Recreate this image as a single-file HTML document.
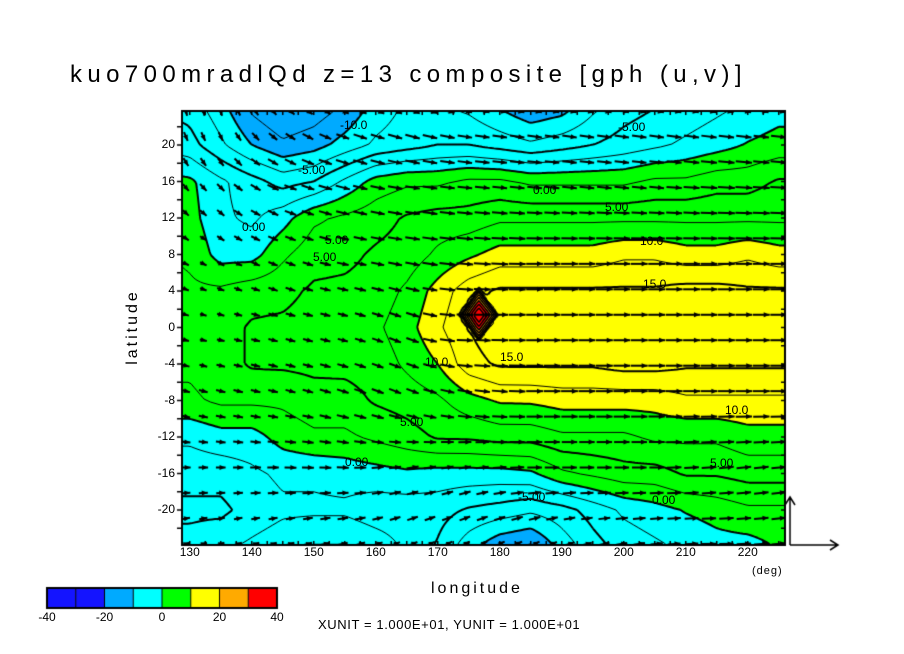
<!DOCTYPE html>
<html><head><meta charset="utf-8"><style>
body{margin:0;background:#fff;width:904px;height:654px;overflow:hidden;position:relative;font-family:"Liberation Sans",sans-serif}
.t{position:absolute;white-space:nowrap;color:#000}
</style></head><body>
<div class="t" style="left:70px;top:61px;font-size:24px;letter-spacing:5.4px">kuo700mradlQd z=13 composite [gph (u,v)]</div>
<canvas id="cv" width="904" height="654" style="position:absolute;left:0;top:0"></canvas>
<div class="t" style="left:431px;top:580px;font-size:16px;letter-spacing:3px">longitude</div>
<div class="t" style="left:752px;top:565px;font-size:11px;letter-spacing:1px">(deg)</div>
<div class="t" style="left:95px;top:318px;font-size:16px;letter-spacing:3px;transform:rotate(-90deg);transform-origin:center">latitude</div>
<div class="t" style="left:318px;top:617px;font-size:13px;letter-spacing:0.6px">XUNIT = 1.000E+01, YUNIT = 1.000E+01</div>
<script>
const lons=[125,130,135,140,145,150,155,160,165,170,175,180,185,190,195,200,205,210,215,220,225,230];
const lats=[24,20,16,12,8,4,0,-4,-8,-12,-16,-20,-24];
const gph=[
[-5,-6,-9,-13,-15,-14,-12,-9,-7,-7,-8,-10,-12,-11,-8,-6,-5,-4,-3,-2,-1,-1],
[-3,-4,-7,-10,-12,-11,-9,-7,-6,-5,-5,-6,-7,-6,-5,-4,-3,-2,-1,0.2,1,1],
[1,0.5,-2,-4,-6,-5,-2,1,2,2,3,3,2,2,2,2,3,3,4,4,5.3,5.3],
[2,1,-2,-3,-1,2,3,4,5.3,6,6,7,7,7,7,7,7,7,7,7,7,7],
[3,2,-1,-1,2,4,4.3,5.4,6,8,9.5,11,11,11,11,12,12,11,11,12,11,11],
[3,3,3,4,4.3,5.4,5.6,6,8,11,14,15.4,15.4,15.4,15.4,15.4,15.4,16,16,15.4,15.4,15.4],
[3,3,4,5.3,5.5,6,6.2,7,9,12,15,17,16,16,16,17,17,16,16,16,16,16],
[3,3,4,5.3,5.4,5.6,5.7,6,8,10,14,15.4,15.4,15.4,15.4,16,16,15.4,15.4,15.4,15.4,15.4],
[2,2,3,3,3,4,4,5.3,6,7,9,10.3,10.4,11,11,11,11,12,12,12,12,12],
[-2,-2,-1,-1,1,2,2,3,4,5.3,5.4,6,6,7,7,7,8,8,8,9,9,9],
[-4,-4,-4,-3,-2,-2,-1.5,-1,-0.5,-1,-1,-1,-0.5,2,3,4,4,5.3,5.3,6,6,6],
[-5.6,-5.6,-5.6,-4,-3,-3,-3,-4,-4,-4,-5.3,-6,-7,-6,-4,-2,-1,0.2,1,2,2,2],
[-4,-4,-3,-2,-1,0.2,0.2,-1,-3,-5.3,-9,-12,-13,-9,-6,-4,-3,-2,-1,-1,0.2,0.2]];
const peakLon=[176.6];
const peakLat=[1.4];
const peakAmp=[24];
const wLons=[125,135,145,155,165,175,185,195,205,215,225,235];
const wLats=[24,16,8,0,-8,-16,-24];
const uWind=[
[0.5,0.5,1.5,2.5,3,3,3,3,3,3,3,3],
[1,1.5,2.5,3,3,3,3,3,3,3.5,3.5,3.5],
[1,1.5,2,2.5,3,3.5,3.5,3.5,3.5,3.5,3.5,3.5],
[1,1.5,2,2,2.5,3.5,3.5,3.5,3.5,3.5,3.5,3.5],
[1.5,2,2,2.5,2.5,3,3.5,3.5,3.5,3.5,3.5,3.5],
[2,2,2.5,2.5,2.5,2.5,3,3,3,3,3,3],
[1.5,1.5,1.5,2,2,2,2,2,2.5,3,3,3]];
const vWind=[
[-2,-2,-1.5,-1,-1,-0.5,-0.5,-0.5,-0.5,-0.5,-0.5,-0.5],
[-1.5,-1.5,-1,-0.8,-0.5,-0.3,-0.3,-0.3,-0.3,-0.2,-0.2,-0.2],
[-0.5,-0.8,-0.8,-0.5,-0.5,-0.3,0,0,0,0,0,0],
[-0.3,-0.3,-0.5,-0.5,-1,0,0,0,0,0,0,0],
[-0.5,-0.5,-0.5,-0.8,-1,-0.5,0,0,0,0,0,0],
[0,0,0,0,0.5,0.5,0,0,0,0.3,0.3,0.3],
[0.5,0.5,0.5,0.5,0.8,1,1,0.5,0.3,0,0.3,0.3]];
const xTicks=[130,140,150,160,170,180,190,200,210,220];
const yTicks=[20,16,12,8,4,0,-4,-8,-12,-16,-20];
const cbLabels=[-40,-20,0,20,40];
const cbColors=["#1414ff","#1414ff","#00aaff","#00ffff","#00ff00","#ffff00","#ffaa00","#ff0000"];

const L=182,R=785,T=111,B=545;
const X=lon=>L+(lon-128.75)*6.2;
const Y=lat=>327.5-lat*9.125;
const lonOf=x=>128.75+(x-L)/6.2;
const latOf=y=>(327.5-y)/9.125;
function interp(grid,gl,gt,lon,lat){
  let fi=(lon-gl[0])/(gl[1]-gl[0]); let fj=(gt[0]-lat)/(gt[0]-gt[1]);
  fi=Math.max(0,Math.min(gl.length-1.0001,fi)); fj=Math.max(0,Math.min(gt.length-1.0001,fj));
  const i=Math.floor(fi),j=Math.floor(fj),a=fi-i,b=fj-j;
  return grid[j][i]*(1-a)*(1-b)+grid[j][i+1]*a*(1-b)+grid[j+1][i]*(1-a)*b+grid[j+1][i+1]*a*b;
}
function field(lon,lat){
  let v=interp(gph,lons,lats,lon,lat);
  for(let k=0;k<peakAmp.length;k++){const d=Math.abs(lon-peakLon[k])/3.2+Math.abs(lat-peakLat[k])/3.0;if(d<1)v+=peakAmp[k]*Math.pow(1-d,0.6);}
  return v;
}
const cv=document.getElementById('cv');const c=cv.getContext('2d');
const rgb=cbColors.map(h=>[parseInt(h.substr(1,2),16),parseInt(h.substr(3,2),16),parseInt(h.substr(5,2),16)]);
const img=c.createImageData(R-L,B-T);
for(let y=T;y<B;y++)for(let x=L;x<R;x++){
  const v=field(lonOf(x+0.5),latOf(y+0.5));
  let k=Math.floor((v+40)/10);k=Math.max(0,Math.min(7,k));
  const p=((y-T)*(R-L)+(x-L))*4;img.data[p]=rgb[k][0];img.data[p+1]=rgb[k][1];img.data[p+2]=rgb[k][2];img.data[p+3]=255;}
c.putImageData(img,L,T);
const S=3;const nx=Math.ceil((R-L)/S),ny=Math.ceil((B-T)/S);
const F=[];for(let j=0;j<=ny;j++){F[j]=[];for(let i=0;i<=nx;i++){F[j][i]=field(lonOf(Math.min(R,L+i*S)),latOf(Math.min(B,T+j*S)));}}
c.save();c.beginPath();c.rect(L,T,R-L,B-T);c.clip();c.strokeStyle='#000';
for(let lv=-15;lv<=35;lv+=2.5){
  c.lineWidth=(lv%5===0)?2:1;if(lv>20)c.lineWidth=1.5;c.beginPath();
  for(let j=0;j<ny;j++)for(let i=0;i<nx;i++){
    const x0=L+i*S,y0=T+j*S;const v=[F[j][i],F[j][i+1],F[j+1][i+1],F[j+1][i]];
    const P=[[x0,y0],[x0+S,y0],[x0+S,y0+S],[x0,y0+S]];const pts=[];
    for(let e=0;e<4;e++){const a=v[e],b=v[(e+1)%4];if((a<lv)!==(b<lv)){const t=(lv-a)/(b-a);const p=P[e],q=P[(e+1)%4];pts.push([p[0]+t*(q[0]-p[0]),p[1]+t*(q[1]-p[1])]);}}
    for(let k=0;k+1<pts.length;k+=2){c.moveTo(pts[k][0],pts[k][1]);c.lineTo(pts[k+1][0],pts[k+1][1]);}
  }
  c.stroke();}
const PX=4.8;
function arrow(x,y,dx,dy,w){const len=Math.hypot(dx,dy);if(len<1)return;const ux=dx/len,uy=dy/len;
  c.lineWidth=w;c.beginPath();c.moveTo(x-dx/2,y-dy/2);c.lineTo(x+dx/2,y+dy/2);c.stroke();
  const hx=x+dx/2,hy=y+dy/2,h=6;c.beginPath();c.moveTo(hx,hy);c.lineTo(hx-h*ux+2.5*uy,hy-h*uy-2.5*ux);c.lineTo(hx-h*ux-2.5*uy,hy-h*uy+2.5*ux);c.closePath();c.fill();}
c.fillStyle='#000';
for(let k=-9;k<=8;k++){const lat=1.395+2.79*k;if(lat>23.8||lat<-23.8)continue;
  for(let lon=129.375;lon<226.1;lon+=2.8125){
    const u=interp(uWind,wLons,wLats,lon,lat),v=interp(vWind,wLons,wLats,lon,lat);
    arrow(X(lon),Y(lat),u*PX,-v*PX,2);}}
c.restore();
c.strokeStyle='#000';c.lineWidth=2;c.strokeRect(L,T,R-L,B-T);
c.lineWidth=1.5;c.beginPath();
for(let lon=130;lon<=225;lon+=2.5){const x=X(lon);c.moveTo(x,B);c.lineTo(x,B-4);c.moveTo(x,T);c.lineTo(x,T+4);}
for(let lat=-22;lat<=22;lat+=2){const y=Y(lat);c.moveTo(L-5,y);c.lineTo(L,y);c.moveTo(R,y);c.lineTo(R-4,y);}
c.stroke();
c.lineWidth=1.5;c.beginPath();c.moveTo(790,545);c.lineTo(838,545);c.moveTo(830,540);c.lineTo(838,545);c.lineTo(830,550);
c.moveTo(790,545);c.lineTo(790,497);c.moveTo(785,505);c.lineTo(790,497);c.lineTo(795,505);c.stroke();
for(let i=0;i<8;i++){c.fillStyle=cbColors[i];c.fillRect(47+i*28.75,588,28.75,20);}
c.lineWidth=1;c.strokeStyle='#000';c.beginPath();for(let i=0;i<=8;i++){c.moveTo(47+i*28.75,588);c.lineTo(47+i*28.75,608);}c.stroke();
c.lineWidth=2;c.strokeRect(47,588,230,20);
const body=document.body;
function lab(txt,x,y,name,size,anchor){const d=document.createElement('div');d.className='t';d.textContent=txt;
  
  
  d.style.fontSize=size+'px';d.style.top=y+'px';d.style.left=x+'px';
  if(anchor==='c')d.style.transform='translateX(-50%)';if(anchor==='r')d.style.transform='translateX(-100%)';body.appendChild(d);}
xTicks.forEach(t=>lab(String(t),X(t),545,'x-tick-label','12','c'));
yTicks.forEach(t=>lab(String(t),175,Y(t)-8,'y-tick-label','12','r'));
cbLabels.forEach((t,i)=>lab(String(t),47+i*57.5,610,'colorbar-label','12','c'));
const cl=[["-10.0",340,118],["-5.00",618,120],["-5.00",298,163],["0.00",533,183],["5.00",605,200],["0.00",242,220],["10.0",640,234],["5.00",325,233],["15.0",643,277],["5.00",313,250],["10.0",425,355],["15.0",500,350],["10.0",725,403],["5.00",400,415],["0.00",345,455],["5.00",710,456],["0.00",652,493],["-5.00",518,490]];
cl.forEach(a=>lab(a[0],a[1],a[2],'contour-label','12',''));
</script>
</body></html>
